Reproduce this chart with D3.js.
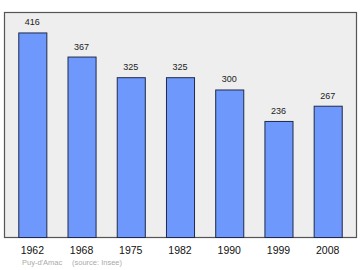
<!DOCTYPE html>
<html>
<head>
<meta charset="utf-8">
<script src="https://cdn.jsdelivr.net/npm/d3@7"></script>
<style>
  body { margin: 0; background: #fff; }
  svg { display: block; font-family: "Liberation Sans", Arial, sans-serif; }
</style>
</head>
<body>
<svg width="360" height="270"></svg>
<script>
// population by census year
var years = ['1962', '1968', '1975', '1982', '1990', '1999', '2008'];
var population = [416, 367, 325, 325, 300, 236, 267];
var place = "Puy-d'Amac";
var source = '(source: Insee)';

var svg = d3.select('svg'),
	plotLeft = 4, plotRight = 356, plotTop = 12, plotBottom = 237;

// plot frame
svg.append('rect')
	.attr('x', plotLeft + 0.5).attr('y', plotTop + 0.5)
	.attr('width', plotRight - plotLeft).attr('height', plotBottom - plotTop)
	.attr('fill', '#eeeeee')
	.attr('stroke', '#555')
	.attr('stroke-width', 1.2);

var x = d3.scaleBand()
	.domain(years)
	.range([plotLeft, plotRight])
	.paddingInner(0.43)
	.paddingOuter(0.29);

var y = d3.scaleLinear()
	.domain([0, 416 * 1.1])
	.range([plotBottom, plotTop]);

var bars = svg.selectAll('.bar')
	.data(population)
	.enter().append('g')
		.attr('class', 'bar');

bars.append('rect')
	.attr('x', function(d, i){ return x(years[i]) + 0.5; })
	.attr('y', function(d){ return y(d) + 0.5; })
	.attr('width', x.bandwidth())
	.attr('height', function(d){ return plotBottom - y(d); })
	.attr('fill', '#6f98fc')
	.attr('stroke', '#1f2a4a')
	.attr('stroke-width', 1);

bars.append('text')
	.attr('x', function(d, i){ return x(years[i]) + x.bandwidth() / 2; })
	.attr('y', function(d){ return y(d) - 7; })
	.attr('text-anchor', 'middle')
	.attr('font-size', 9)
	.attr('fill', '#222')
	.text(function(d){ return d; });

// year labels under the frame
var axis = d3.axisBottom(x).tickSize(0).tickPadding(10);
var ax = svg.append('g')
	.attr('transform', 'translate(0,' + plotBottom + ')')
	.call(axis);
ax.select('.domain').remove();
ax.selectAll('text')
	.attr('font-size', 10.5)
	.attr('font-family', '"Liberation Sans", Arial, sans-serif')
	.attr('fill', '#111');

svg.append('text')
	.attr('x', 22).attr('y', 265)
	.attr('font-size', 7.5)
	.attr('fill', '#aaa')
	.text(place);
svg.append('text')
	.attr('x', 72).attr('y', 265)
	.attr('font-size', 7.5)
	.attr('fill', '#aaa')
	.text(source);
</script>
</body>
</html>
